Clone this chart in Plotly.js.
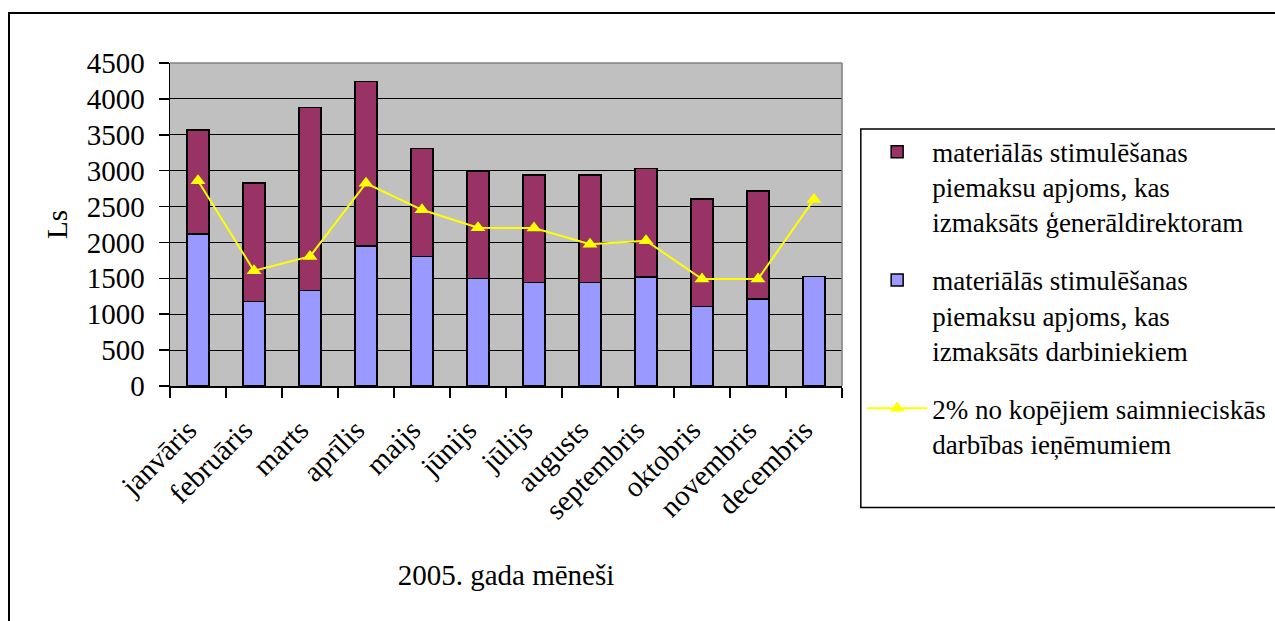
<!DOCTYPE html>
<html>
<head>
<meta charset="utf-8">
<script src="https://cdn.plot.ly/plotly-3.0.1.min.js"></script>
<style>
  html, body { margin: 0; padding: 0; background: #fff; }
  #wrap { position: relative; width: 1275px; height: 621px; overflow: hidden; }
  #chart { width: 1275px; height: 621px; }
  #frame { position: absolute; left: 8px; top: 12px; width: 1400px; height: 800px;
           border: 2px solid #000; pointer-events: none; }
</style>
</head>
<body>
<div id="wrap">
  <div id="chart"></div>
  <div id="frame"></div>
</div>
<script>
const months = ['janvāris','februāris','marts','aprīlis','maijs','jūnijs','jūlijs','augusts','septembris','oktobris','novembris','decembris'];
const workersBonus = [2120,1180,1330,1950,1805,1495,1440,1440,1520,1105,1215,1525];
const directorBonus = [1445,1650,2550,2295,1505,1500,1500,1500,1510,1500,1500,0];
const revenue2pct = [2860,1605,1805,2825,2455,2205,2200,1975,2025,1490,1490,2600];

const nameDirector = 'materiālās stimulēšanas<br>piemaksu apjoms, kas<br>izmaksāts ģenerāldirektoram';
const nameWorkers = 'materiālās stimulēšanas<br>piemaksu apjoms, kas<br>izmaksāts darbiniekiem';
const nameRevenue = '2% no kopējiem saimnieciskās<br>darbības ieņēmumiem';

const FONT = '"Liberation Serif", "Times New Roman", serif';

const traces = [
  { type: 'bar', x: months, y: workersBonus, name: nameWorkers, legendrank: 2, legendgroup: 'b',
    marker: { color: '#9999FF', line: { color: '#000', width: 1.5 } } },
  { type: 'bar', x: months, y: directorBonus, name: nameDirector, legendrank: 1, legendgroup: 'a',
    marker: { color: '#993366', line: { color: '#000', width: 1.5 } } },
  { type: 'scatter', mode: 'lines+markers', x: months, y: revenue2pct, name: nameRevenue,
    legendrank: 3, legendgroup: 'c',
    line: { color: '#FFFF00', width: 2 },
    marker: { symbol: 'triangle-up', size: 13, color: '#FFFF00' } }
];

const layout = {
  width: 1275, height: 621,
  margin: { l: 170, r: 433, t: 63, b: 235, autoexpand: false },
  paper_bgcolor: '#fff', plot_bgcolor: '#C0C0C0',
  barmode: 'stack', bargap: 0.6,
  font: { family: FONT, size: 27, color: '#000' },
  showlegend: true,
  legend: { x: 1.03, xanchor: 'left', y: 0.80, yanchor: 'top', traceorder: 'grouped',
            tracegroupgap: 20, valign: 'top', maxheight: 600,
            bgcolor: 'rgba(0,0,0,0)', borderwidth: 0, itemwidth: 60,
            font: { family: FONT, size: 27, color: '#000' } },
  xaxis: { type: 'category', range: [-0.5, 11.5], tickson: 'boundaries', ticks: 'outside', ticklen: 10, tickwidth: 1.5,
           tickcolor: '#000', showline: true, linecolor: '#000', linewidth: 1.5, showgrid: false,
           tickangle: -45, ticklabelstandoff: 14, ticklabelshift: -10,
           tickfont: { family: FONT, size: 29 }, automargin: false,
           title: { text: '2005. gada mēneši', font: { family: FONT, size: 29 }, standoff: 40 } },
  yaxis: { range: [0, 4500], dtick: 500, tick0: 0, ticks: 'outside', ticklen: 10, tickwidth: 1.5,
           tickcolor: '#000', showline: true, linecolor: '#000', linewidth: 1.5,
           showgrid: true, gridcolor: '#000', gridwidth: 1.2, zeroline: false, automargin: false,
           ticklabelstandoff: 8, tickfont: { family: FONT, size: 29 },
           title: { text: 'Ls', font: { family: FONT, size: 29 }, standoff: 10 } },
  shapes: [
    { type: 'line', xref: 'x domain', yref: 'y domain', x0: 0, x1: 1, y0: 1, y1: 1,
      line: { color: '#808080', width: 1.5 } },
    { type: 'line', xref: 'x domain', yref: 'y domain', x0: 1, x1: 1, y0: 0, y1: 1,
      line: { color: '#808080', width: 1.5 } },
    { type: 'rect', xref: 'paper', yref: 'paper', x0: 1.028, x1: 1.70, y0: -0.376, y1: 0.796,
      line: { color: '#000', width: 1.5 }, fillcolor: 'rgba(0,0,0,0)' }
  ]
};

Plotly.newPlot('chart', traces, layout, { staticPlot: true, displayModeBar: false });
</script>
</body>
</html>
